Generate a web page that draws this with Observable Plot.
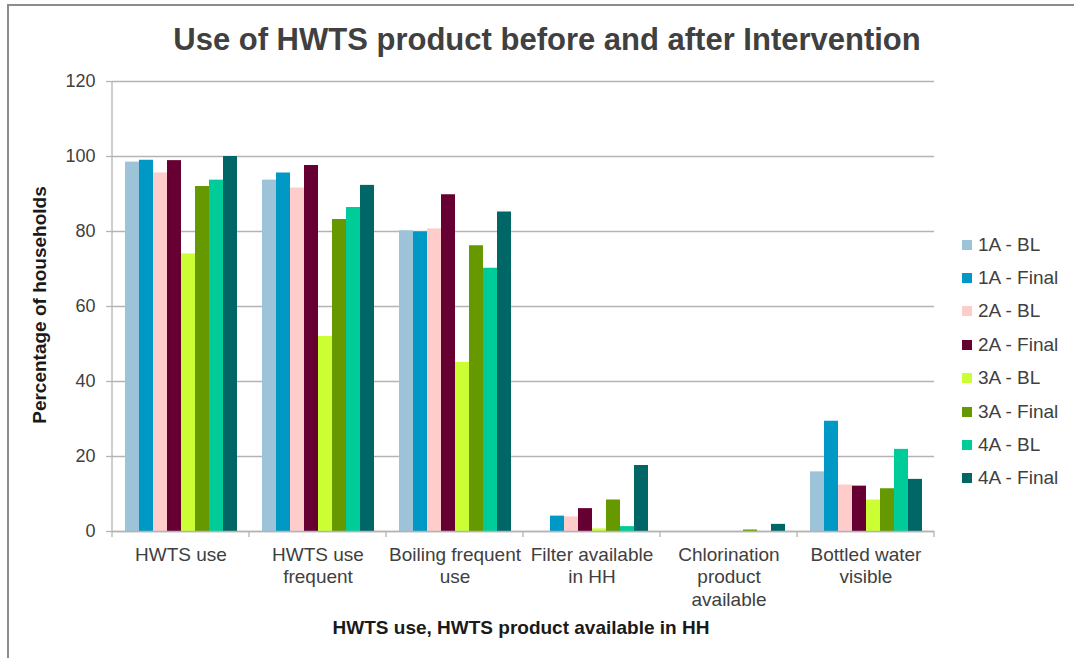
<!DOCTYPE html>
<html>
<head>
<meta charset="utf-8">
<script src="https://cdn.jsdelivr.net/npm/d3@7"></script>
<script src="https://cdn.jsdelivr.net/npm/@observablehq/plot@0.6"></script>
<style>
  html, body { margin: 0; padding: 0; background: #fff; }
  body { width: 1074px; height: 658px; position: relative; overflow: hidden;
         font-family: "Liberation Sans", Arial, sans-serif; color: #404040; }
  #frame { position: absolute; left: 7px; top: 4px; right: -10px; bottom: -10px;
           border-top: 2px solid #8c8c8c; border-left: 2px solid #8c8c8c; }
  #chart { position: absolute; left: 0; top: 0; }
  #title { position: absolute; left: 0; width: 1094px; top: 22px; text-align: center;
           font-size: 31px; font-weight: bold; line-height: 36px; color: #404040; }
  #ylabel { position: absolute; left: 40px; top: 305px; transform: translate(-50%, -50%) rotate(-90deg);
            white-space: nowrap; font-size: 19px; font-weight: bold; color: #1a1a1a; }
  #xlabel { position: absolute; left: 0; width: 1042px; top: 617px; text-align: center;
            font-size: 19px; font-weight: bold; color: #1a1a1a; line-height: 22px; }
  #legend { position: absolute; left: 962px; top: 228px; }
  .item { height: 33.4px; display: flex; align-items: center; font-size: 19px; color: #404040; white-space: nowrap; }
  .item .sw { width: 10px; height: 10px; margin-right: 6px; }
</style>
</head>
<body>
<div id="frame"></div>
<div id="chart"></div>
<div id="title">Use of HWTS product before and after Intervention</div>
<div id="ylabel">Percentage of households</div>
<div id="xlabel">HWTS use, HWTS product available in HH</div>
<div id="legend"></div>
<script>
const categories = ["HWTS use", "HWTS use frequent", "Boiling frequent use", "Filter available in HH", "Chlorination product available", "Bottled water visible"];
const tickLabels = ["HWTS use", "HWTS use\nfrequent", "Boiling frequent\nuse", "Filter available\nin HH", "Chlorination\nproduct\navailable", "Bottled water\nvisible"];
const series = ["1A - BL", "1A - Final", "2A - BL", "2A - Final", "3A - BL", "3A - Final", "4A - BL", "4A - Final"];
const colors = ["#9DC3D9", "#0099C6", "#FFCCCC", "#660033", "#CCFF33", "#669900", "#00CC99", "#006666"];
const yTicks = [0, 20, 40, 60, 80, 100, 120];

const v1A_BL    = [98.5, 93.7, 80.2, 0.0, 0.0, 15.9];
const v1A_Final = [99.0, 95.6, 79.9, 4.1, 0.0, 29.4];
const v2A_BL    = [95.6, 91.6, 80.7, 3.9, 0.0, 12.4];
const v2A_Final = [98.9, 97.6, 89.8, 6.1, 0.0, 12.1];
const v3A_BL    = [74.0, 52.0, 45.1, 0.7, 0.0, 8.4];
const v3A_Final = [92.0, 83.2, 76.2, 8.4, 0.4, 11.4];
const v4A_BL    = [93.7, 86.4, 70.2, 1.3, 0.0, 21.9];
const v4A_Final = [100.0, 92.3, 85.2, 17.6, 1.9, 13.9];

const seriesValues = [v1A_BL, v1A_Final, v2A_BL, v2A_Final, v3A_BL, v3A_Final, v4A_BL, v4A_Final];
const data = [];
categories.forEach((c, i) => {
  series.forEach((s, j) => data.push({category: c, series: s, value: seriesValues[j][i]}));
});

const gridColor = "#b4b4b4";
const chart = Plot.plot({
  width: 1074,
  height: 658,
  marginTop: 81,
  marginBottom: 127,
  marginLeft: 110,
  marginRight: 138,
  style: {fontFamily: "'Liberation Sans', Arial, sans-serif", fontSize: "19px", color: "#404040", background: "transparent"},
  fx: {domain: categories, padding: 0, label: null},
  x: {domain: series, paddingInner: 0, paddingOuter: 0.75, axis: null},
  y: {domain: [0, 120], label: null},
  color: {domain: series, range: colors},
  marks: [
    Plot.gridY(yTicks, {stroke: gridColor, strokeOpacity: 1, strokeWidth: 1.3}),
    Plot.barY(data, {fx: "category", x: "series", y: "value", fill: "series"}),
    Plot.ruleY([0], {stroke: gridColor, strokeWidth: 1.3}),
    Plot.axisY(yTicks, {tickSize: 6, tickPadding: 11, stroke: gridColor, strokeWidth: 1.3, fill: "#404040", fontSize: 18, label: null}),
    Plot.axisFx({anchor: "bottom", tickSize: 0, tickPadding: 13, tickFormat: d => tickLabels[categories.indexOf(d)], lineHeight: 1.2, fontSize: 19, fill: "#404040", label: null})
  ]
});
document.getElementById("chart").appendChild(chart);

// axis line and category boundary ticks, placed from Plot's own scales
const fx = chart.scale("fx"), y = chart.scale("y");
const svg = d3.select(chart);
const x0 = fx.apply(categories[0]);
const y0 = y.apply(0), yTop = y.apply(120);
svg.append("line").attr("x1", x0).attr("x2", x0).attr("y1", yTop).attr("y2", y0)
  .attr("stroke", gridColor).attr("stroke-width", 1.3);
const bounds = categories.map(c => fx.apply(c));
bounds.push(fx.apply(categories[categories.length - 1]) + fx.bandwidth);
svg.append("g").selectAll("line").data(bounds).join("line")
  .attr("x1", d => d).attr("x2", d => d).attr("y1", y0).attr("y2", y0 + 6)
  .attr("stroke", gridColor).attr("stroke-width", 1.3);

// legend
const legend = d3.select("#legend");
series.forEach((s, i) => {
  const it = legend.append("div").attr("class", "item");
  it.append("div").attr("class", "sw").style("background", colors[i]);
  it.append("span").text(s);
});
</script>
</body>
</html>
